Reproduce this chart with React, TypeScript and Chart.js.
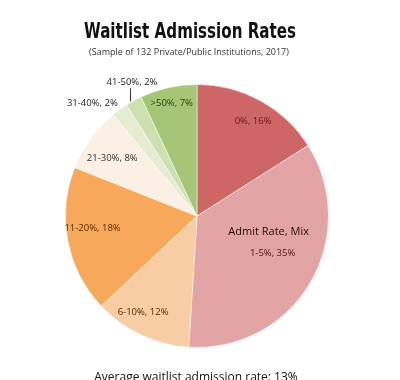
import React, { useEffect, useRef } from "react";
import { Chart, registerables } from "chart.js";

Chart.register(...registerables);

const categories = ["0%", "1-5%", "6-10%", "11-20%", "21-30%", "31-40%", "41-50%", ">50%"];
const shares = [16, 35, 12, 18, 8, 2, 2, 7];
const sliceColors = ["#cf6666", "#e3a4a5", "#f9cda4", "#f7a85a", "#fcefe3", "#e6ecd2", "#cfe0b0", "#a7c576"];
const labelColors = ["#6e1414", "#4a1414", "#4a2a0c", "#5a2a05", "#333333", "#222222", "#222222", "#2b4410"];
const labelRadius = [0.84, 0.64, 0.84, 0.8, 0.78, 1.17, 1.13, 0.88];
const labelAngleShift = [0.03, -0.08, 0.07, 0.07, -0.03, -0.12, 0.05, 0.0];
const titleText = "Waitlist Admission Rates";
const subtitleText = "(Sample of 132 Private/Public Institutions, 2017)";
const footText = "Average waitlist admission rate: 13%";
const extraLabel = "Admit Rate, Mix";

const textPlugin = {
  id: "pieText",
  afterDraw(chart: any) {
    const ctx = chart.ctx;
    const meta = chart.getDatasetMeta(0);
    ctx.save();
    ctx.textAlign = "center";
    ctx.textBaseline = "middle";
    // title (horizontally condensed)
    ctx.save();
    ctx.translate(190, 33);
    ctx.scale(0.72, 1);
    ctx.fillStyle = "#111";
    ctx.font = "bold 21px 'DejaVu Sans', sans-serif";
    ctx.fillText(titleText, 0, 0);
    ctx.restore();
    ctx.fillStyle = "#333";
    ctx.font = "9px 'Open Sans', sans-serif";
    ctx.fillText(subtitleText, 189, 52);
    ctx.fillStyle = "#111";
    ctx.font = "12px 'Open Sans', sans-serif";
    ctx.fillText(footText, 196, 378);

    ctx.font = "9.5px 'Open Sans', sans-serif";
    meta.data.forEach((arc: any, i: number) => {
      const { x, y, startAngle, endAngle, outerRadius } = arc.getProps(
        ["x", "y", "startAngle", "endAngle", "outerRadius"],
        true
      );
      const mid = (startAngle + endAngle) / 2 + labelAngleShift[i];
      const r = outerRadius * labelRadius[i];
      const lx = x + Math.cos(mid) * r;
      const ly = y + Math.sin(mid) * r;
      ctx.fillStyle = labelColors[i];
      const txt = categories[i] + ", " + shares[i] + "%";
      if (i === 1) {
        ctx.font = "11px 'Open Sans', sans-serif";
        ctx.fillStyle = "#2a0a0a";
        ctx.fillText(extraLabel, lx - 4, ly - 21);
        ctx.font = "9.5px 'Open Sans', sans-serif";
        ctx.fillStyle = labelColors[i];
      }
      ctx.fillText(txt, lx, ly);
      if (i === 6) {
        ctx.strokeStyle = "#333";
        ctx.lineWidth = 1;
        ctx.beginPath();
        ctx.moveTo(lx - 1.5, ly + 6);
        ctx.lineTo(lx - 1.5, ly + 19);
        ctx.stroke();
      }
    });
    ctx.restore();
  },
};

export default function App() {
  const ref = useRef<HTMLCanvasElement>(null);
  useEffect(() => {
    document.body.style.margin = "0";
    const chart = new Chart(ref.current!, {
      type: "pie",
      data: {
        labels: categories,
        datasets: [
          {
            data: shares,
            backgroundColor: sliceColors,
            borderColor: "rgba(255,255,255,0.5)",
            borderWidth: 1,
          },
        ],
      },
      options: {
        animation: false,
        responsive: false,
        layout: { padding: { left: 65, right: 71, top: 84, bottom: 32 } },
        plugins: { legend: { display: false }, tooltip: { enabled: false } },
      },
      plugins: [textPlugin],
    });
    return () => chart.destroy();
  }, []);
  return (
    <div style={{ width: 400, height: 380, background: "#fff" }}>
      <canvas ref={ref} width={400} height={380} />
    </div>
  );
}
